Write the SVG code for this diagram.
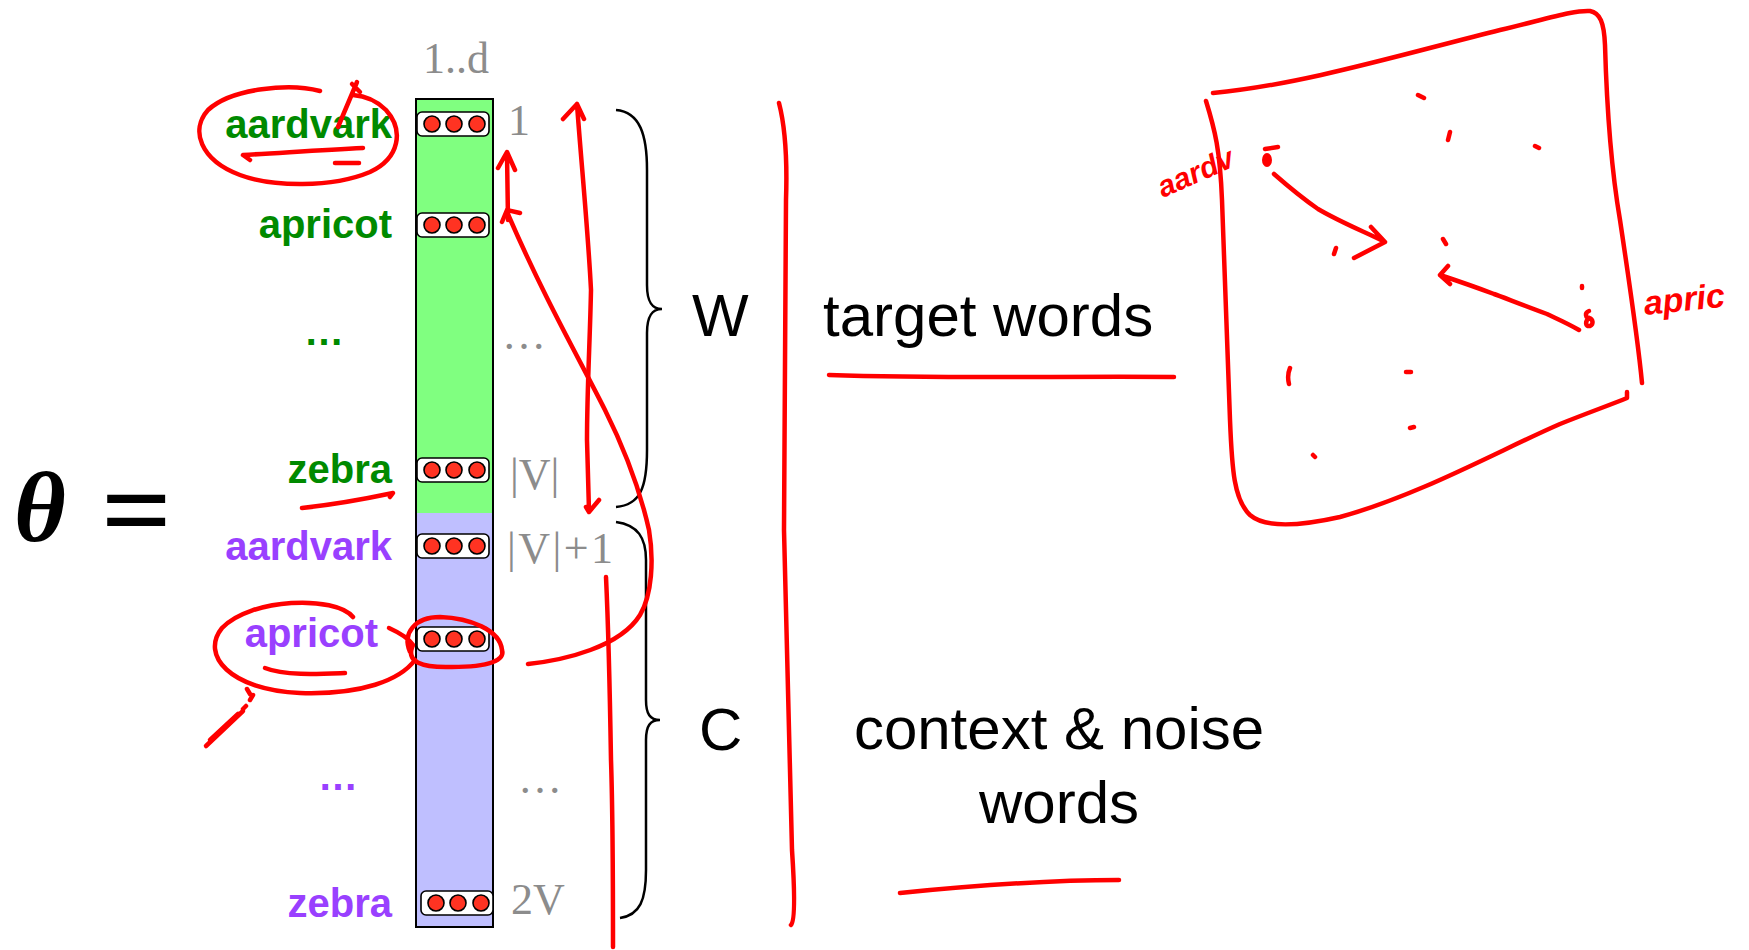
<svg xmlns="http://www.w3.org/2000/svg" width="1749" height="950" viewBox="0 0 1749 950">
<style>
.g{font-family:"Liberation Sans",Arial,sans-serif;font-weight:bold;font-size:40px;fill:#008A00}
.p{font-family:"Liberation Sans",Arial,sans-serif;font-weight:bold;font-size:40px;fill:#9940FF}
.n{font-family:"Liberation Serif","Times New Roman",serif;font-size:44px;fill:#8C8C8C}
.big{font-family:"Liberation Sans",Arial,sans-serif;font-size:60px;fill:#000}
.pill{fill:#fff;stroke:#000;stroke-width:1.6}
.dot{fill:#FF3322;stroke:#000;stroke-width:1.6}
.brace{fill:none;stroke:#000;stroke-width:2.5}
.ink{fill:none;stroke:#FF0000;stroke-width:4.5;stroke-linecap:round;stroke-linejoin:round}
.inkf{fill:#FF0000;stroke:#FF0000;stroke-width:2}
.hand{font-family:"Liberation Sans",Arial,sans-serif;font-style:italic;font-weight:bold;fill:#FF0000}
</style>
<defs>
<g id="dots3"><rect class="pill" x="0" y="0" width="72" height="24" rx="5"/><circle class="dot" cx="15" cy="12" r="8"/><circle class="dot" cx="37" cy="12" r="8"/><circle class="dot" cx="60" cy="12" r="8"/></g>
</defs>
<rect width="1749" height="950" fill="#fff"/>

<g id="theta">
<text x="14" y="541" font-family="Liberation Serif,serif" font-weight="bold" font-style="italic" font-size="100">θ</text>
<text x="101" y="549" font-family="Liberation Serif,serif" font-weight="bold" font-size="116" textLength="71" lengthAdjust="spacingAndGlyphs">=</text>
</g>

<g id="column">
<rect x="416" y="99" width="77" height="414" fill="#80FF80"/>
<rect x="416" y="513" width="77" height="414" fill="#BFBFFF"/>
<rect x="416" y="99" width="77" height="828" fill="none" stroke="#000" stroke-width="2"/>
<text class="n" x="423" y="73" font-size="40">1..d</text>
</g>

<g id="row-w-aardvark"><text class="g" x="392" y="138" text-anchor="end">aardvark</text><use href="#dots3" x="417" y="112"/><text class="n" x="508" y="135">1</text></g>
<g id="row-w-apricot"><text class="g" x="392" y="238" text-anchor="end">apricot</text><use href="#dots3" x="417" y="213"/></g>
<g id="row-w-dots"><text class="g" x="324" y="345" text-anchor="middle">…</text><text class="n" x="524" y="349" text-anchor="middle" font-size="40">…</text></g>
<g id="row-w-zebra"><text class="g" x="392" y="483" text-anchor="end">zebra</text><use href="#dots3" x="417" y="458"/><text class="n" x="510" y="489">|V|</text></g>
<g id="row-c-aardvark"><text class="p" x="392" y="560" text-anchor="end">aardvark</text><use href="#dots3" x="417" y="534"/><text class="n" x="507" y="563" textLength="106" lengthAdjust="spacing">|V|+1</text></g>
<g id="row-c-apricot"><text class="p" x="378" y="647" text-anchor="end">apricot</text><use href="#dots3" x="417" y="627"/></g>
<g id="row-c-dots"><text class="p" x="338" y="790" text-anchor="middle">…</text><text class="n" x="540" y="793" text-anchor="middle" font-size="40">…</text></g>
<g id="row-c-zebra"><text class="p" x="392" y="917" text-anchor="end">zebra</text><use href="#dots3" x="421" y="891"/><text class="n" x="511" y="914">2V</text></g>

<g id="brace-w"><path class="brace" d="M616,110 C640,112 647,135 647,170 L647,285 C647,302 652,309 662,309 C652,309 647,316 647,333 L647,450 C647,488 640,505 616,507"/><text class="big" x="692" y="336">W</text></g>
<g id="brace-c"><path class="brace" d="M616,522 C638,525 646,538 646,560 L646,700 C646,714 650,720 660,720 C650,720 646,726 646,740 L646,870 C646,900 640,915 620,918"/><text class="big" x="699" y="750">C</text></g>

<g id="label-target"><text class="big" x="823" y="336">target words</text></g>
<g id="label-context"><text class="big" x="1059" y="749" text-anchor="middle">context &amp; noise</text><text class="big" x="1059" y="823" text-anchor="middle">words</text></g>

<g id="connectors">
<path class="ink" d="M320,91 C290,83 232,88 208,110 C190,130 200,160 240,175 C272,187 332,188 370,172 C400,158 404,130 386,110 C376,100 366,96 353,95"/>
<path class="ink" d="M338,127 L357,82 M352,84 L360,92"/>
<path class="ink" d="M250,160 L243,155 C280,153 320,150 363,148"/>
<path class="ink" d="M335,163 L359,163"/>
<path class="ink" d="M302,508 C330,505 360,500 393,493 L390,497"/>
<path class="ink" d="M353,617 C335,595 250,598 222,628 C200,655 230,690 300,693 C362,695 400,680 415,660"/>
<path class="ink" d="M265,668 C285,676 320,674 345,673"/>
<path class="ink" d="M389,628 C400,633 410,640 413,645 C405,662 422,668 452,667 C490,667 505,660 502,650 C500,630 470,618 440,617 C415,617 402,633 410,652"/>
<path class="ink" d="M247,689 L250,694 M253,695 L250,700 M246,706 L243,709"/>
<path class="ink" stroke-width="10" d="M238,714 L210,740"/>
<path class="ink" stroke-width="4" d="M243,711 L206,746"/>
<path class="ink" d="M508,220 L507,154 M498,168 L507,152 L515,170"/>
<path class="ink" d="M528,664 C565,660 620,647 640,615 C652,595 654,560 649,530 C640,490 625,450 605,410 C580,360 545,300 507,212 M502,222 L507,210 L520,213"/>
<path class="ink" d="M577,104 C581,160 588,230 591,290 C590,340 587,390 587,440 L589,511 M563,119 L577,104 L584,119 M586,507 L589,512 L599,500"/>
<path class="ink" d="M779,103 C786,130 787,170 786,200 L784,530 L792,850 C794,880 796,920 791,925"/>
<path class="ink" d="M606,577 C608,620 610,700 611,760 C613,820 613,880 613,947"/>
<path class="ink" d="M829,375 C950,379 1060,376 1174,377"/>
<path class="ink" d="M900,893 C980,885 1050,880 1119,880"/>
<path class="ink" d="M1213,93 C1300,85 1400,55 1500,30 C1550,18 1575,10 1590,11 C1600,13 1604,22 1605,45 C1606,80 1608,150 1620,220 C1632,300 1638,340 1642,383"/>
<path class="ink" d="M1206,101 C1215,130 1220,150 1222,200 L1230,420 C1232,470 1234,500 1250,515 C1265,528 1300,526 1340,517 C1420,495 1500,450 1560,424 C1590,412 1610,405 1627,398 L1627,392"/>
<path class="ink" d="M1274,174 C1290,188 1305,200 1318,209 C1340,222 1365,232 1383,241 M1371,227 L1385,242 L1354,258"/>
<path class="ink" d="M1579,330 C1565,322 1555,318 1547,314 C1520,304 1500,296 1494,294 C1470,285 1455,280 1440,275 M1448,266 L1440,275 L1450,284"/>
<path class="ink" d="M1418,95 L1424,98 M1450,132 L1448,140 M1535,146 L1539,148 M1336,248 L1334,254 M1443,239 L1446,244 M1290,368 C1287,375 1288,380 1289,384 M1406,372 L1411,372 M1410,428 L1414,427 M1313,455 L1315,457 M1582,286 L1582,288"/>
<ellipse cx="1267" cy="160" rx="4" ry="6" class="inkf"/>
<path class="ink" d="M1265,149 L1278,147"/>
<path class="ink" stroke-width="3" d="M1589,311 C1584,313 1586,318 1589,318 C1593,319 1594,324 1590,326 C1585,327 1585,321 1589,318"/>
<text class="hand" font-size="30" transform="translate(1163,198) rotate(-24)">aardv</text>
<text class="hand" font-size="34" transform="translate(1645,315) rotate(-6)">apric</text>
</g>
</svg>
